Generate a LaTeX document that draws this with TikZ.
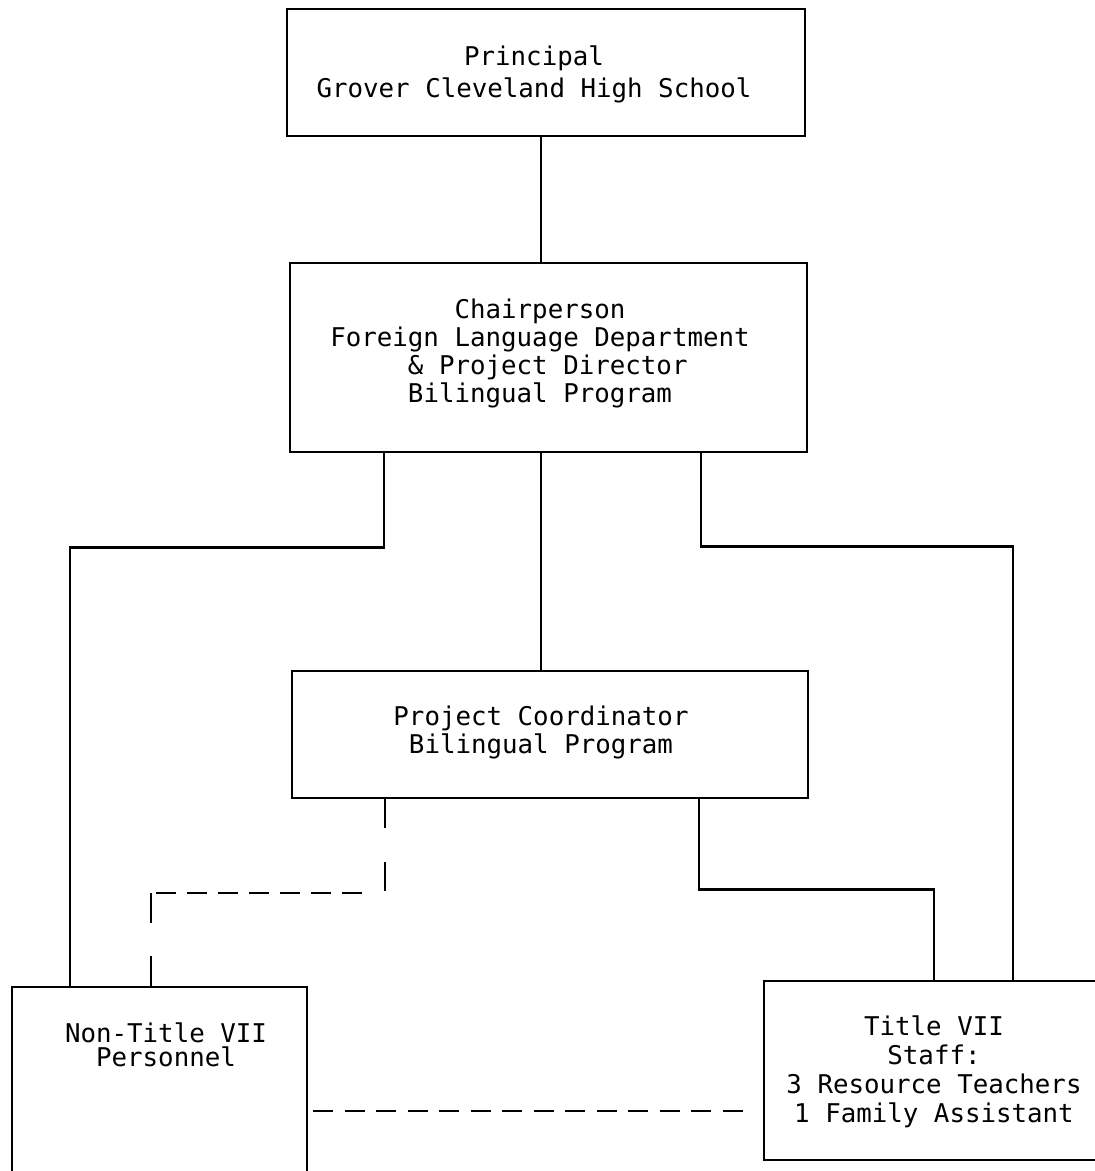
\documentclass[tikz,border=0pt]{standalone}
\usepackage{fontspec}
\setmonofont{DejaVu Sans Mono}
\begin{document}
\begin{tikzpicture}[x=1pt,y=-1pt,
  box/.style={draw, line width=2.9pt, inner sep=0pt, rectangle},
  txt/.style={align=center, inner sep=0pt, anchor=north},
  conn/.style={line width=2.9pt},
  dashv/.style={line width=2.9pt, dash pattern=on 30pt off 33pt},
  dashh/.style={line width=2.9pt, dash pattern=on 20pt off 11.5pt, dash phase=26.5pt}]
\useasboundingbox (0,0) rectangle (1095,1171);
\fill[white] (0,0) rectangle (1095,1171);
\clip (0,0) rectangle (1095,1171);
% boxes
\node[box, minimum width=518pt, minimum height=127pt] (p)  at (546,72.5) {};
\node[box, minimum width=517pt, minimum height=189pt] (ch) at (548.5,357.5) {};
\node[box, minimum width=516pt, minimum height=127pt] (co) at (550,734.5) {};
\node[box, minimum width=295pt, minimum height=213pt] (nt) at (159.5,1093.5) {};
\node[box, minimum width=340pt, minimum height=179pt] (tt) at (934,1070.5) {};
% texts
\node[txt, font={\ttfamily\fontsize{25.8}{32}\selectfont}] (tp) at (534,45.4)
  {Principal\\Grover Cleveland High School};
\node[txt, font={\ttfamily\fontsize{25.8}{28}\selectfont}] (tch) at (540,298.4)
  {Chairperson\\Foreign Language Department\\\phantom{x}\& Project Director\\Bilingual Program};
\node[txt, font={\ttfamily\fontsize{25.8}{28}\selectfont}] (tco) at (541,705.4)
  {Project Coordinator\\Bilingual Program};
\node[txt, font={\ttfamily\fontsize{25.8}{24}\selectfont}] (tnt) at (166,1022.6)
  {Non-Title VII\\Personnel};
\node[txt, font={\ttfamily\fontsize{25.8}{29}\selectfont}] (ttt) at (934,1015.6)
  {Title VII\\Staff:\\3 Resource Teachers\\1 Family Assistant};
% column coordinates
\coordinate (cM) at (541,0);
\coordinate (cL) at (384,0);
\coordinate (cR) at (701,0);
\coordinate (cNT) at (70,0);
\coordinate (cTT) at (1013,0);
\coordinate (dL) at (385,0);
\coordinate (dNT) at (151,0);
\coordinate (sR) at (699,0);
\coordinate (sTT) at (934,0);
\coordinate (k1) at (385,893);
\coordinate (k2) at (151,893);
\coordinate (k3) at (366,893);
\coordinate (dY) at (0,1111);
\coordinate (dEnd) at (745,1111);
% solid connectors
\draw[conn] (p.south -| cM) -- (ch.north -| cM);
\draw[conn] (ch.south -| cM) -- (co.north -| cM);
\draw[conn] (ch.south -| cL) -- ++(0,94) -| (nt.north -| cNT);
\draw[conn] (ch.south -| cR) -- ++(0,93) -| (tt.north -| cTT);
\draw[conn] (co.south -| sR) -- ++(0,90) -| (tt.north -| sTT);
% dashed connectors
\draw[dashv, dash pattern=on 29pt off 34pt] (co.south -| dL) -- (k1);
\draw[dashh, dash pattern=on 20pt off 11pt, dash phase=26pt] (k2) -- (k3);
\draw[dashv] (k2) -- (nt.north -| dNT);
\draw[dashh] (nt.east |- dY) -- (dEnd);
\end{tikzpicture}
\end{document}
